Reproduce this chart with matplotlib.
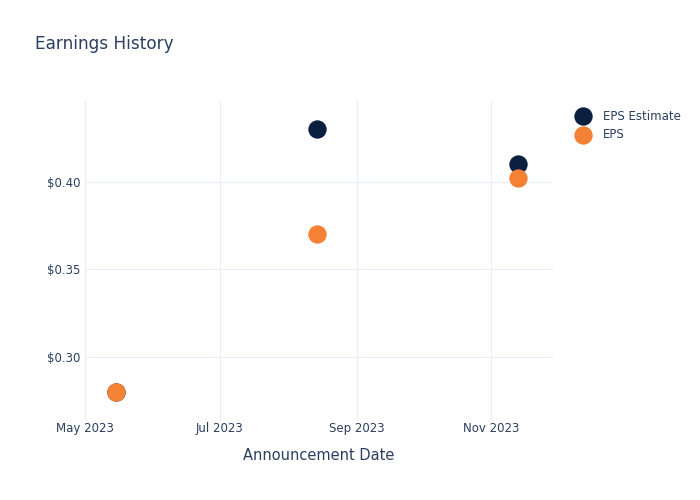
"""Earnings history scatter: EPS estimate vs reported EPS per announcement."""
import matplotlib
matplotlib.use("Agg")
import matplotlib.pyplot as plt
import matplotlib.dates as mdates
import pandas as pd

dates = pd.to_datetime(["2023-05-15", "2023-08-14", "2023-11-13"])
eps_estimate = [0.28, 0.43, 0.41]
eps_actual = [0.28, 0.37, 0.402]

TEXT = "#2a3f5f"
GRID = "#ebf0f8"
NAVY = "#0b1f41"
ORANGE = "#f58134"

fig = plt.figure(figsize=(7, 5), dpi=100)
ax = fig.add_axes([85 / 700, 79 / 500, 468 / 700, 321 / 500])

ax.scatter(dates, eps_estimate, s=175, color=NAVY, label="EPS Estimate", zorder=3, linewidths=0)
ax.scatter(dates, eps_actual, s=175, color=ORANGE, label="EPS", zorder=4, linewidths=0)

ax.set_xlim(pd.Timestamp("2023-05-01"), pd.Timestamp("2023-11-29"))
ax.set_ylim(0.2635, 0.4465)
ax.xaxis.set_major_locator(mdates.MonthLocator(bymonth=[5, 7, 9, 11]))
ax.xaxis.set_major_formatter(mdates.DateFormatter("%b %Y"))
ax.set_yticks([0.30, 0.35, 0.40])
ax.yaxis.set_major_formatter(plt.FuncFormatter(lambda v, _: f"${v:.2f}"))

ax.grid(True, color=GRID, lw=1)
ax.set_axisbelow(True)
for s in ax.spines.values():
    s.set_visible(False)
ax.tick_params(length=0, colors=TEXT, labelsize=8.5, pad=3)
ax.tick_params(axis="x", pad=1)

ax.set_xlabel("Announcement Date", color=TEXT, fontsize=10.5, labelpad=9)
fig.text(35 / 700, 1 - 44 / 500, "Earnings History", color=TEXT, fontsize=12.2, va="center")

ax.legend(loc="upper left", bbox_to_anchor=(1.029, 0.985), frameon=False, fontsize=8.5,
          labelcolor=TEXT, handletextpad=0.7, labelspacing=0.5, borderaxespad=0)

fig.savefig("out.png", dpi=100)
